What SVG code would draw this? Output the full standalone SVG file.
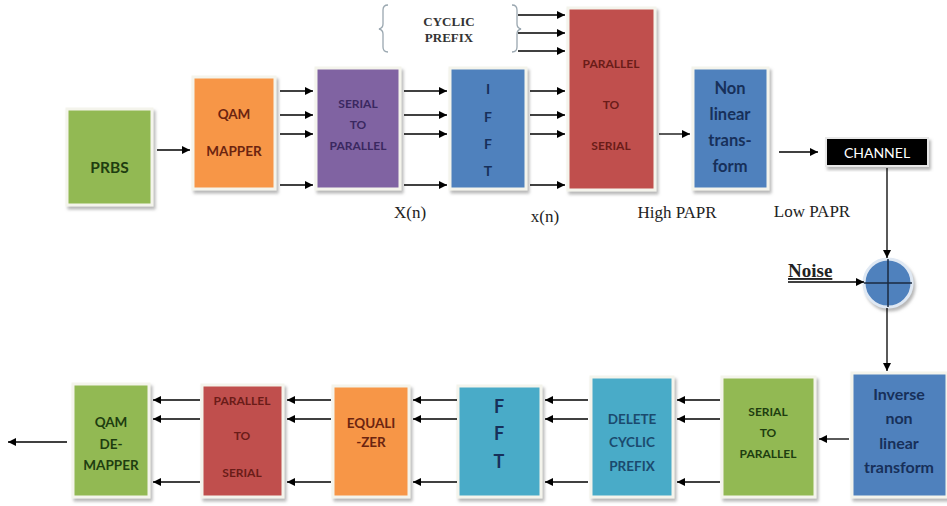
<svg xmlns="http://www.w3.org/2000/svg" width="947" height="506" viewBox="0 0 947 506">
<defs>
<marker id="ah" viewBox="0 0 10 10" refX="10" refY="5" markerWidth="8" markerHeight="8" markerUnits="userSpaceOnUse" orient="auto"><path d="M0,0 L10,5 L0,10 z" fill="#000"/></marker>
<filter id="sh" x="-10%" y="-10%" width="130%" height="130%"><feDropShadow dx="2" dy="3" stdDeviation="1.5" flood-color="#888" flood-opacity="0.6"/></filter>
</defs>
<style>
.box{stroke:#f4f4ec;stroke-width:3;filter:url(#sh)}
.g{fill:#92b952}.o{fill:#f79646}.p{fill:#8064a2}.b{fill:#4f81bd}.r{fill:#c0504d}.t{fill:#4aabc8}
.lb{font-family:Lato,"Open Sans",sans-serif;font-weight:bold;text-anchor:middle}
.c line,.c path{stroke:#000;stroke-width:1.3;fill:none}
.a{marker-end:url(#ah)}
.serif{font-family:"Liberation Serif",serif;font-size:17px;fill:#222}
.cpt{font-family:"Liberation Serif",serif;font-weight:bold;font-size:13px;fill:#333;text-anchor:middle}
</style>
<rect width="947" height="506" fill="#fff"/>

<g id="prbs"><rect class="box g" x="67" y="109" width="85" height="96"/><text class="lb" x="109.5" y="173" font-size="15.5" fill="#1e3d10">PRBS</text></g>
<g id="qam"><rect class="box o" x="193" y="77" width="82" height="112"/><text class="lb" font-size="13.5" fill="#6b2410"><tspan x="234" y="119">QAM</tspan><tspan x="234" y="156">MAPPER</tspan></text></g>
<g id="sp1"><rect class="box p" x="316" y="68" width="84" height="121"/><text class="lb" font-size="12" fill="#3a2860"><tspan x="358" y="108">SERIAL</tspan><tspan x="358" y="129">TO</tspan><tspan x="358" y="150">PARALLEL</tspan></text></g>
<g id="ifft"><rect class="box b" x="450" y="68" width="76" height="121"/><text class="lb" font-size="14" fill="#17305a"><tspan x="488" y="94">I</tspan><tspan x="488" y="122">F</tspan><tspan x="488" y="149">F</tspan><tspan x="488" y="176">T</tspan></text></g>
<g id="cp"><text class="cpt"><tspan x="449" y="26">CYCLIC</tspan><tspan x="449" y="42">PREFIX</tspan></text>
<path d="M388,5 Q383,5 383,10 L383,24 Q383,28 379,29 Q383,30 383,34 L383,47 Q383,52 388,52" fill="none" stroke="#9aa7b0" stroke-width="1.3"/>
<path d="M512,5 Q517,5 517,10 L517,24 Q517,28 521,29 Q517,30 517,34 L517,47 Q517,52 512,52" fill="none" stroke="#9aa7b0" stroke-width="1.3"/></g>
<g id="ps1"><rect class="box r" x="568" y="8" width="87" height="182"/><text class="lb" font-size="12" fill="#6a1c18"><tspan x="611" y="68">PARALLEL</tspan><tspan x="611" y="109">TO</tspan><tspan x="611" y="150">SERIAL</tspan></text></g>
<g id="nlt"><rect class="box b" x="693" y="68" width="75" height="121"/><text class="lb" font-size="16.5" fill="#17305a"><tspan x="730" y="94">Non</tspan><tspan x="730" y="120">linear</tspan><tspan x="730" y="146">trans-</tspan><tspan x="730" y="172">form</tspan></text></g>
<g id="channel"><rect x="826" y="138" width="102" height="28" fill="#000" stroke="#e8e8e8" stroke-width="2" filter="url(#sh)"/><text class="lb" x="877" y="157.5" font-size="14" fill="#fff" style="font-weight:normal">CHANNEL</text></g>
<g id="sum"><circle cx="888" cy="283" r="24" fill="#4f81bd" stroke="#dfe8f3" stroke-width="3" filter="url(#sh)"/><line x1="864" y1="283" x2="912" y2="283" stroke="#1a2a40" stroke-width="1.5"/><line x1="888" y1="259" x2="888" y2="307" stroke="#1a2a40" stroke-width="1.5"/></g>
<g id="noise"><text x="788" y="277" font-family="'Liberation Serif',serif" font-weight="bold" font-size="19" fill="#222" text-decoration="underline">Noise</text></g>
<g id="inlt"><rect class="box b" x="852" y="373" width="95" height="124"/><text class="lb" font-size="16" fill="#17305a"><tspan x="899" y="400">Inverse</tspan><tspan x="899" y="424">non</tspan><tspan x="899" y="449">linear</tspan><tspan x="899" y="473">transform</tspan></text></g>
<g id="sp2"><rect class="box g" x="722" y="377" width="93" height="120"/><text class="lb" font-size="12" fill="#1e3d10"><tspan x="768" y="416">SERIAL</tspan><tspan x="768" y="437">TO</tspan><tspan x="768" y="458">PARALLEL</tspan></text></g>
<g id="dcp"><rect class="box t" x="591" y="377" width="82" height="120"/><text class="lb" font-size="13.5" fill="#1b4a6e"><tspan x="632" y="424">DELETE</tspan><tspan x="632" y="447">CYCLIC</tspan><tspan x="632" y="471">PREFIX</tspan></text></g>
<g id="fft"><rect class="box t" x="458" y="386" width="83" height="111"/><text class="lb" font-size="18" fill="#17305a"><tspan x="499" y="413">F</tspan><tspan x="499" y="440">F</tspan><tspan x="499" y="468">T</tspan></text></g>
<g id="eq"><rect class="box o" x="333" y="386" width="76" height="111"/><text class="lb" font-size="13.5" fill="#6b2410"><tspan x="371" y="428">EQUALI</tspan><tspan x="371" y="447">-ZER</tspan></text></g>
<g id="ps2"><rect class="box r" x="202" y="385" width="81" height="112"/><text class="lb" font-size="12" fill="#6a1c18"><tspan x="242" y="405">PARALLEL</tspan><tspan x="242" y="440">TO</tspan><tspan x="242" y="477">SERIAL</tspan></text></g>
<g id="qamd"><rect class="box g" x="73" y="384" width="76" height="113"/><text class="lb" font-size="13.5" fill="#1e3d10"><tspan x="111" y="427">QAM</tspan><tspan x="111" y="449">DE-</tspan><tspan x="111" y="470">MAPPER</tspan></text></g>

<g id="labels">
<text class="serif" x="410" y="218" text-anchor="middle">X(n)</text>
<text class="serif" x="545" y="222" text-anchor="middle">x(n)</text>
<text class="serif" x="677" y="218" text-anchor="middle">High PAPR</text>
<text class="serif" x="812" y="217" text-anchor="middle">Low PAPR</text>
</g>

<g id="connectors" class="c">
<line class="a" x1="157" y1="150" x2="190" y2="150"/>
<line class="a" x1="280" y1="91" x2="313" y2="91"/>
<line class="a" x1="280" y1="115" x2="313" y2="115"/>
<line class="a" x1="280" y1="134" x2="313" y2="134"/>
<line class="a" x1="280" y1="185" x2="313" y2="185"/>
<line class="a" x1="404" y1="91" x2="447" y2="91"/>
<line class="a" x1="404" y1="115" x2="447" y2="115"/>
<line class="a" x1="404" y1="134" x2="447" y2="134"/>
<line class="a" x1="404" y1="185" x2="447" y2="185"/>
<line class="a" x1="530" y1="91" x2="565" y2="91"/>
<line class="a" x1="530" y1="115" x2="565" y2="115"/>
<line class="a" x1="530" y1="134" x2="565" y2="134"/>
<line class="a" x1="530" y1="185" x2="565" y2="185"/>
<line class="a" x1="518" y1="15" x2="565" y2="15"/>
<line class="a" x1="518" y1="33" x2="565" y2="33"/>
<line class="a" x1="518" y1="51" x2="565" y2="51"/>
<line class="a" x1="659" y1="134" x2="690" y2="134"/>
<line class="a" x1="779" y1="152" x2="818" y2="152"/>
<line class="a" x1="887" y1="168" x2="887" y2="258"/>
<line class="a" x1="788" y1="282" x2="864" y2="282"/>
<line class="a" x1="887" y1="308" x2="887" y2="371"/>
<line class="a" x1="849" y1="439" x2="819" y2="439"/>
<line class="a" x1="720" y1="400" x2="677" y2="400"/>
<line class="a" x1="720" y1="419" x2="677" y2="419"/>
<line class="a" x1="720" y1="482" x2="677" y2="482"/>
<line class="a" x1="588" y1="400" x2="545" y2="400"/>
<line class="a" x1="588" y1="419" x2="545" y2="419"/>
<line class="a" x1="588" y1="482" x2="545" y2="482"/>
<line class="a" x1="457" y1="400" x2="413" y2="400"/>
<line class="a" x1="457" y1="419" x2="413" y2="419"/>
<line class="a" x1="457" y1="482" x2="413" y2="482"/>
<line class="a" x1="331" y1="400" x2="287" y2="400"/>
<line class="a" x1="331" y1="419" x2="287" y2="419"/>
<line class="a" x1="331" y1="482" x2="287" y2="482"/>
<line class="a" x1="200" y1="400" x2="153" y2="400"/>
<line class="a" x1="200" y1="419" x2="153" y2="419"/>
<line class="a" x1="200" y1="482" x2="153" y2="482"/>
<line class="a" x1="67" y1="442" x2="8" y2="442"/>
</g>
</svg>
